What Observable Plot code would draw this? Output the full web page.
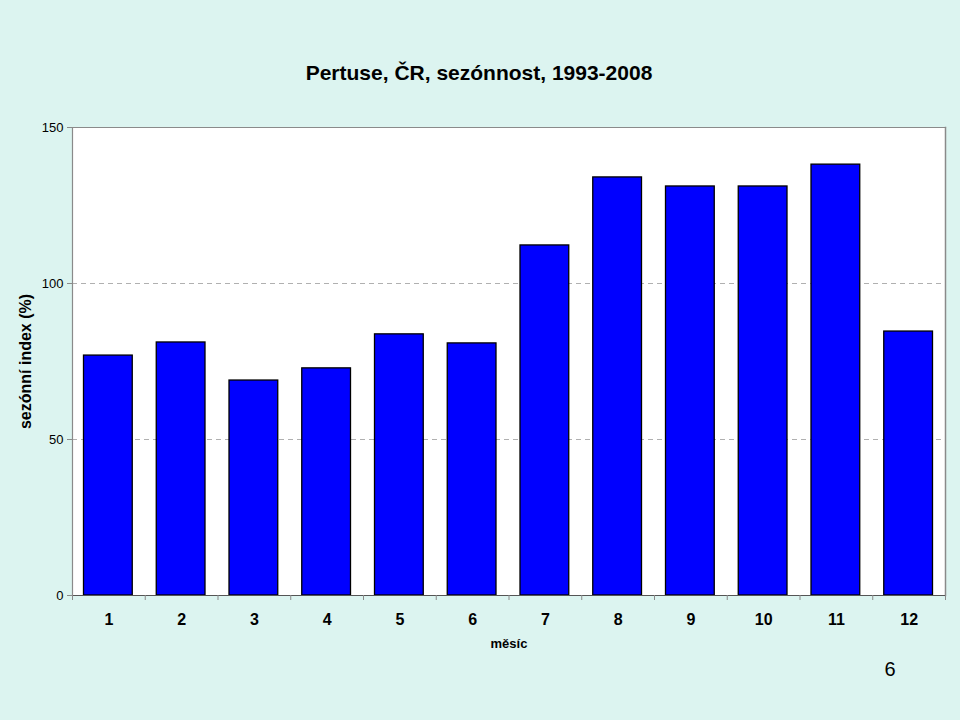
<!DOCTYPE html>
<html>
<head>
<meta charset="utf-8">
<script src="https://cdn.jsdelivr.net/npm/d3@7"></script>
<script src="https://cdn.jsdelivr.net/npm/@observablehq/plot@0.6"></script>
<style>
  html, body { margin: 0; padding: 0; background: #dcf4f0; }
  #chart svg { display: block; }
</style>
</head>
<body>
<div id="chart"></div>
<script>
const months = [1, 2, 3, 4, 5, 6, 7, 8, 9, 10, 11, 12];
const values = [76.9, 81.1, 68.9, 72.8, 83.7, 80.8, 112.2, 134.0, 131.1, 131.1, 138.1, 84.6];
const yTicks = [0, 50, 100, 150];
const gridValues = [50, 100];
const title = "Pertuse, ČR, sezónnost, 1993-2008";
const yLabel = "sezónní index (%)";
const xLabel = "měsíc";
const pageNumber = "6";

const data = months.map((m, i) => ({m, v: values[i]}));
const edges = d3.range(0.5, 13, 1);

const chart = Plot.plot({
  width: 960,
  height: 720,
  marginLeft: 72,
  marginRight: 15,
  marginTop: 127,
  marginBottom: 125,
  style: {background: "#dcf4f0", fontFamily: "'Liberation Sans', Arial, sans-serif", color: "#000"},
  x: {domain: [0.5, 12.5], axis: null},
  y: {domain: [0, 150], axis: null},
  marks: [
    Plot.frame({fill: "white", stroke: "none"}),
    Plot.ruleY(gridValues, {stroke: "#b0b0b0", strokeDasharray: "5,4"}),
    Plot.rectY(data, {x1: d => d.m - 0.5, x2: d => d.m + 0.5, y: "v", insetLeft: 11.5, insetRight: 12.5, fill: "#0000ff", stroke: "#000", strokeWidth: 1.3}),
    Plot.frame({stroke: "#8a8a8a", strokeWidth: 1.2, anchor: "top"}),
    Plot.frame({stroke: "#8a8a8a", strokeWidth: 1.5, anchor: "right"}),
    Plot.frame({stroke: "#8a8a8a", strokeWidth: 1.2, anchor: "left"}),
    Plot.ruleY([0], {stroke: "#555"}),
    Plot.axisY({ticks: yTicks, tickSize: 5, tickPadding: 4, fontSize: 13, stroke: "#8a8a8a", label: null, tickFormat: d => String(d)}),
    Plot.axisX({ticks: edges, tickSize: 5, tickFormat: () => "", stroke: "#8a8a8a", label: null}),
    Plot.axisX({ticks: months, tickSize: 0, tickPadding: 18, fontSize: 16, fontWeight: "bold", label: null, tickFormat: d => String(d)}),
    Plot.text([title], {frameAnchor: "top", dy: -62, dx: -30, fontSize: 21, fontWeight: "bold"}),
    Plot.text([yLabel], {frameAnchor: "left", dx: -47, dy: 0, rotate: -90, textAnchor: "middle", fontSize: 16, fontWeight: "bold", letterSpacing: 1.4}),
    Plot.text([xLabel], {frameAnchor: "bottom", dy: 52, dx: 0, fontSize: 13, fontWeight: "bold"}),
    Plot.text([pageNumber], {frameAnchor: "bottom-right", dx: -50, dy: 80, fontSize: 20})
  ]
});
document.getElementById("chart").appendChild(chart);
</script>
</body>
</html>
